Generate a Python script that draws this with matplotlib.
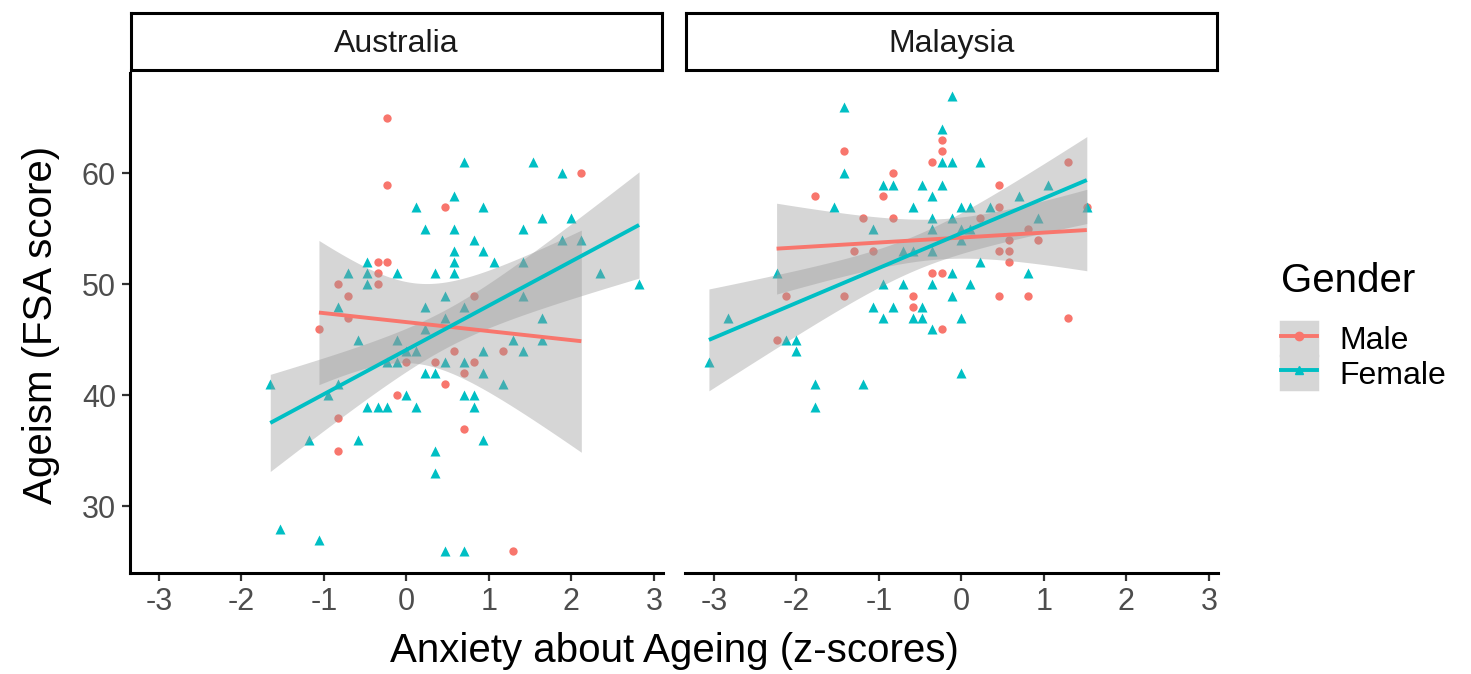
import numpy as np
import matplotlib.pyplot as plt
from matplotlib.lines import Line2D
from matplotlib.patches import Patch
from matplotlib.legend_handler import HandlerTuple

plt.rcParams['font.family'] = ['Liberation Sans', 'DejaVu Sans']

# Australia - male
aus_m_x = [-0.24, -0.24, 0.47, -0.35, -0.24, -0.35, -0.83, -0.35, -0.71, -0.71, -1.06, 2.12, 0.82,
           0.00, 0.35, 0.47, -0.12, -0.83, -0.83, 0.58, 1.17, 0.82, 0.70, 0.70, 1.29]
aus_m_y = [65, 59, 57, 52, 52, 51, 50, 50, 49, 47, 46, 60, 49,
           43, 43, 41, 40, 38, 35, 44, 44, 43, 42, 37, 26]

# Australia - female
aus_f_x = [0.12, 0.23, -0.48, -0.71, -0.48, -0.12, 0.35, -0.48, 0.47, -0.83, 0.23,
           0.70, 1.53, 1.88, 0.58, 0.93, 1.64, 2.00, 0.58, 1.41, 0.82, 1.88, 2.12,
           0.58, 0.93, 0.58, 1.06, 1.41, 0.58, 2.35, 2.82, 1.41, 0.70, 0.47, 1.64,
           -0.59, -0.12, 0.23, 0.00, 0.12, -0.24, -0.12, 0.47, 0.23, 0.35,
           -1.65, -0.83, -0.95, 0.00, -0.48, -0.35, -0.24, 0.12, -1.18, -0.59,
           0.35, 0.35, -1.53, -1.06, 0.47, 1.29, 1.64, 0.93, 1.41, 0.70, 0.93,
           1.17, 0.70, 0.82, 0.82, 0.93, 0.70]
aus_f_y = [57, 55, 52, 51, 51, 51, 51, 50, 49, 48, 48,
           61, 61, 60, 58, 57, 56, 56, 55, 55, 54, 54, 54,
           53, 53, 52, 52, 52, 51, 51, 50, 49, 48, 47, 47,
           45, 45, 46, 44, 44, 43, 43, 43, 42, 42,
           41, 41, 40, 40, 39, 39, 39, 39, 36, 36,
           35, 33, 28, 27, 26, 45, 45, 44, 44, 43, 42,
           41, 40, 40, 39, 36, 26]

# Malaysia - female
mal_f_x = [-1.42, -0.24, -0.23, -0.12, -1.42, -0.95, -0.83, -0.48, -0.24, -0.36, -1.54,
           -0.59, -0.36, -1.07, -0.36, -0.71, -0.59, -0.36, -2.24, -0.95, -0.71, -0.36,
           -1.07, -0.83, -0.48, -2.83, -0.95, -0.59, -0.48, -0.36, -2.12, -2.01, -2.01,
           -3.06, -1.77, -1.19, -1.77, -0.12, 0.23, 1.05, 0.70, 0.00, 0.11, 0.35,
           -0.12, 0.93, 0.00, 0.11, 0.00, 0.23, -0.12, 0.81, 0.11, -0.12, 0.00, 0.00, 1.52]
mal_f_y = [66, 64, 61, 61, 60, 59, 59, 59, 59, 58, 57,
           57, 56, 55, 55, 53, 53, 53, 51, 50, 50, 50,
           48, 48, 48, 47, 47, 47, 47, 46, 45, 45, 44,
           43, 41, 41, 39, 67, 61, 59, 58, 57, 57, 57,
           56, 56, 55, 55, 54, 52, 51, 51, 50, 49, 47, 42, 57]

# Malaysia - male
mal_m_x = [-0.24, -0.24, -1.42, -0.36, -0.83, -1.77, -0.95, -1.19, -0.83, -1.30, -1.07,
           -0.36, -0.24, -2.12, -1.42, -0.59, -0.59, -0.24, -2.24, 0.46, 1.29, 1.52,
           0.46, 0.23, 0.81, 0.58, 0.93, 0.46, 0.58, 0.58, 0.46, 0.81, 1.29]
mal_m_y = [63, 62, 62, 61, 60, 58, 58, 56, 56, 53, 53,
           51, 51, 49, 49, 49, 48, 46, 45, 59, 61, 57,
           57, 56, 55, 54, 54, 53, 53, 52, 49, 49, 47]

countries = ["Australia", "Malaysia"]
genders = ["Male", "Female"]
colors = {"Male": "#F8766D", "Female": "#00BFC4"}
markers = {"Male": "o", "Female": "^"}
sizes = {"Male": 36, "Female": 52}

data = {
    "Australia": {"Male": (aus_m_x, aus_m_y), "Female": (aus_f_x, aus_f_y)},
    "Malaysia": {"Male": (mal_m_x, mal_m_y), "Female": (mal_f_x, mal_f_y)},
}


def t975(df):
    # Cornish-Fisher approximation of the 97.5% t quantile
    z = 1.959964
    return (z + (z**3 + z) / (4 * df) + (5 * z**5 + 16 * z**3 + 3 * z) / (96 * df**2)
            + (3 * z**7 + 19 * z**5 + 17 * z**3 - 15 * z) / (384 * df**3))


def lm_fit(x, y):
    x = np.asarray(x, float)
    y = np.asarray(y, float)
    n = len(x)
    b, a = np.polyfit(x, y, 1)
    resid = y - (a + b * x)
    s = np.sqrt(np.sum(resid**2) / (n - 2))
    xs = np.linspace(x.min(), x.max(), 80)
    se = s * np.sqrt(1 / n + (xs - x.mean())**2 / np.sum((x - x.mean())**2))
    fit = a + b * xs
    t = t975(n - 2)
    return xs, fit, fit - t * se, fit + t * se


fig = plt.figure(figsize=(14.71, 6.74), dpi=100)
W, H = 1471, 674
panel_left = [130, 685]
pw = 533
ptop, pbot = 73, 573

for i, c in enumerate(countries):
    ax = fig.add_axes([panel_left[i] / W, 1 - pbot / H, pw / W, (pbot - ptop) / H])
    for g in genders:
        x, y = data[c][g]
        ax.scatter(x, y, s=sizes[g], marker=markers[g], color=colors[g], linewidths=0, zorder=2)
    for g in genders:
        x, y = data[c][g]
        xs, fit, lo, hi = lm_fit(x, y)
        ax.fill_between(xs, lo, hi, color="#999999", alpha=0.4, linewidth=0, zorder=3)
        ax.plot(xs, fit, color=colors[g], lw=2.8, zorder=4, solid_capstyle="butt")
    ax.set_xlim(-3.35, 3.11)
    ax.set_ylim(24.0, 69.05)
    ax.set_xticks([-3, -2, -1, 0, 1, 2, 3])
    ax.set_xticklabels(["-3", "-2", "-1", "0", "1", "2", "3"])
    ax.set_yticks([30, 40, 50, 60])
    for s in ["top", "right"]:
        ax.spines[s].set_visible(False)
    ax.spines["bottom"].set_linewidth(2.2)
    ax.spines["left"].set_linewidth(2.2)
    ax.tick_params(axis="both", length=6, width=1.6, color="#333333",
                   labelsize=22, labelcolor="#4D4D4D", pad=4)
    if i == 1:
        ax.spines["left"].set_visible(False)
        ax.tick_params(axis="y", left=False, labelleft=False)
    # facet strip
    sax = fig.add_axes([(panel_left[i] + 1) / W, 1 - 70 / H, (pw - 2) / W, 57 / H])
    sax.set_xticks([])
    sax.set_yticks([])
    for s in sax.spines.values():
        s.set_linewidth(2.2)
    sax.text(0.5, 0.45, c, ha="center", va="center", fontsize=23, color="#1A1A1A",
             transform=sax.transAxes)

fig.text(41 / W, 1 - 325 / H, "Ageism (FSA score)", rotation=90, ha="center", va="center",
         fontsize=29, color="black")
fig.text(674 / W, 1 - 651 / H, "Anxiety about Ageing (z-scores)", ha="center", va="center",
         fontsize=29, color="black")

handles = []
for g in genders:
    bg = Patch(facecolor="#D6D6D6", edgecolor="#D6D6D6", linewidth=2.5)
    ln = Line2D([], [], color=colors[g], lw=2.8, marker=markers[g], markersize=6)
    handles.append((bg, ln))
leg = fig.legend(handles, genders, title="Gender", loc="upper left",
                 bbox_to_anchor=(1281 / W, 1 - 262 / H), frameon=False,
                 handler_map={tuple: HandlerTuple(ndivide=1, pad=0)},
                 fontsize=23, title_fontsize=29, handlelength=1.12, handleheight=1.2,
                 labelspacing=0.0, handletextpad=0.7, borderaxespad=0, borderpad=0)
leg._legend_box.align = "left"
leg._legend_box.sep = 16

plt.savefig("out.png", dpi=100)
